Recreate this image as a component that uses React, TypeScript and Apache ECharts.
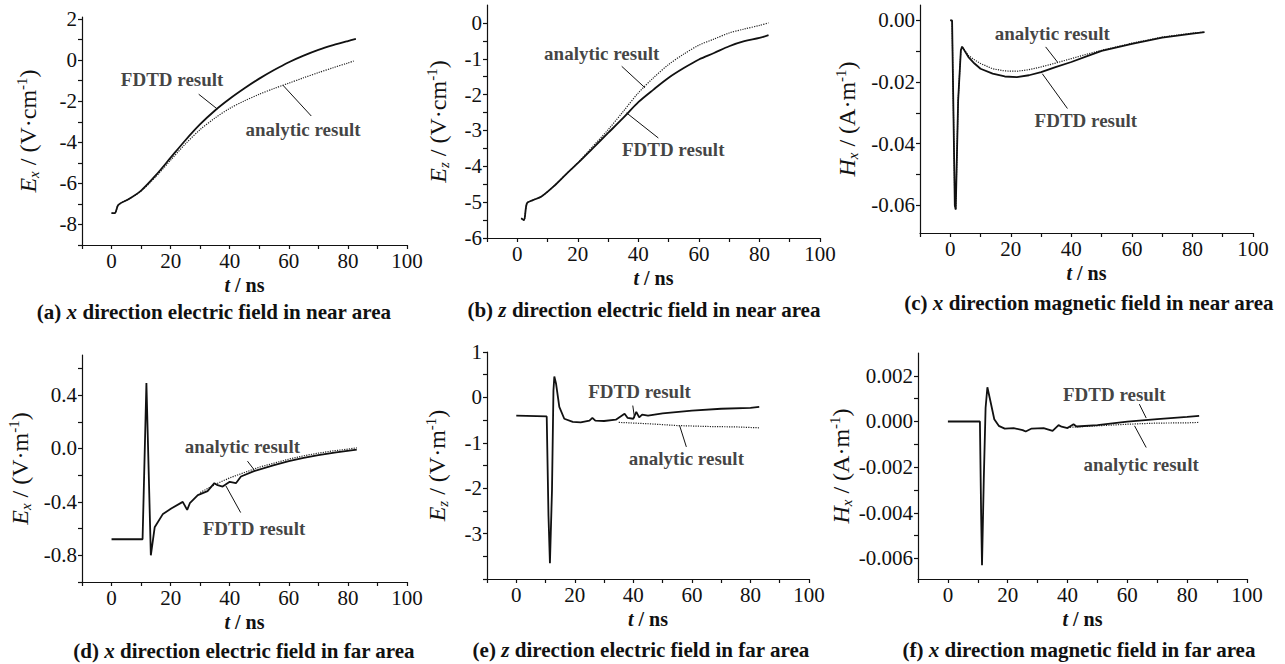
import React, { useEffect, useRef } from 'react';
import * as echarts from 'echarts';

const FONT = '"Liberation Serif", "Times New Roman", Times, serif';
const INK = '#111';

// ---------- shared x axis ----------
const xLabelValues = [0, 20, 40, 60, 80, 100];
const xTickValues = [-10, 0, 10, 20, 30, 40, 50, 60, 70, 80, 90, 100];

// ---------- (a) x direction electric field in near area ----------
const aYLabels = ['2', '0', '-2', '-4', '-6', '-8'];
const aYTicks = [-9, -8, -7, -6, -5, -4, -3, -2, -1, 0, 1, 2];
const aFdtdT = [0, 1.1, 2.3, 6, 10, 15, 20, 25, 30, 35, 40, 45, 50, 55, 60, 65, 70, 75, 80, 82.7];
const aFdtdV = [-7.45, -7.45, -7.05, -6.75, -6.35, -5.6, -4.75, -3.9, -3.12, -2.45, -1.88, -1.37, -0.9, -0.48, -0.1, 0.22, 0.5, 0.73, 0.93, 1.03];
const aAnaT = [0, 1.1, 2.3, 6, 10, 15, 20, 25, 30, 35, 40, 45, 50, 55, 60, 65, 70, 75, 80, 82];
const aAnaV = [-7.45, -7.45, -7.05, -6.75, -6.37, -5.67, -4.87, -4.08, -3.38, -2.82, -2.35, -1.98, -1.66, -1.38, -1.12, -0.86, -0.61, -0.37, -0.14, -0.04];
const aTextPos = [[20.5, -0.93], [64.8, -3.38]];
const aTexts = ['FDTD result', 'analytic result'];
const aLeaders = [[[29.5, -1.66], [35.8, -2.38]], [[67.6, -2.72], [58, -1.22]]];

// ---------- (b) z direction electric field in near area ----------
const bYLabels = ['0', '-1', '-2', '-3', '-4', '-5', '-6'];
const bYTicks = [-6, -5.5, -5, -4.5, -4, -3.5, -3, -2.5, -2, -1.5, -1, -0.5, 0];
const bFdtdT = [1.3, 2.2, 3.2, 5, 8, 12, 16, 20, 25, 30, 35, 40, 45, 50, 55, 60, 65, 70, 75, 80, 83];
const bFdtdV = [-5.45, -5.5, -5.03, -4.95, -4.84, -4.56, -4.23, -3.91, -3.49, -3.07, -2.65, -2.21, -1.86, -1.53, -1.26, -1.02, -0.84, -0.65, -0.51, -0.42, -0.34];
const bAnaT = [1.3, 2.2, 3.2, 5, 8, 12, 16, 20, 25, 30, 35, 40, 45, 50, 55, 60, 65, 70, 75, 80, 83];
const bAnaV = [-5.45, -5.5, -5.03, -4.95, -4.84, -4.56, -4.23, -3.9, -3.44, -2.98, -2.47, -1.95, -1.53, -1.16, -0.87, -0.62, -0.45, -0.28, -0.17, -0.07, 0];
const bTextPos = [[27.9, -0.84], [51.5, -3.53]];
const bTexts = ['analytic result', 'FDTD result'];
const bLeaders = [[[34.5, -1.21], [42.2, -1.81]], [[46.6, -3.21], [36.1, -2.51]]];

// ---------- (c) x direction magnetic field in near area ----------
const cYLabels = ['0.00', '-0.02', '-0.04', '-0.06'];
const cYTicks = [-0.06, -0.05, -0.04, -0.03, -0.02, -0.01, 0];
const cFdtdT = [0, 0.6, 1.5, 1.8, 2.6, 3.5, 3.9, 6, 8, 10, 14, 18, 22, 26, 30, 35, 40, 45, 50, 60, 70, 80, 84];
const cFdtdV = [0, 0, -0.06, -0.0614, -0.026, -0.0097, -0.0085, -0.0119, -0.014, -0.0157, -0.0173, -0.0182, -0.0184, -0.0178, -0.0168, -0.0151, -0.0135, -0.0117, -0.0099, -0.0076, -0.0056, -0.0043, -0.0038];
const cAnaT = [0, 0.6, 1.5, 1.8, 2.6, 3.5, 3.9, 6, 8, 10, 14, 18, 22, 26, 30, 35, 40, 45, 50, 60, 70, 80, 84];
const cAnaV = [0, 0, -0.06, -0.0614, -0.026, -0.0097, -0.0085, -0.0114, -0.0128, -0.014, -0.0157, -0.0164, -0.0165, -0.016, -0.0151, -0.0138, -0.0124, -0.011, -0.0097, -0.0074, -0.0054, -0.0041, -0.0038];
const cTextPos = [[33.7, -0.0043], [44.8, -0.0324]];
const cTexts = ['analytic result', 'FDTD result'];
const cLeaders = [[[31.5, -0.0086], [35.4, -0.0135]], [[38.7, -0.0286], [30.4, -0.0173]]];

// ---------- (d) x direction electric field in far area ----------
const dYLabels = ['0.4', '0.0', '-0.4', '-0.8'];
const dYTicks = [-1.0, -0.8, -0.6, -0.4, -0.2, 0, 0.2, 0.4, 0.6];
const dFdtdT = [0, 10.5, 11.8, 13.3, 14.6, 17.4, 20.2, 24.1, 25.6, 26.5, 29.2, 32.5, 34.8, 35.9, 37.6, 40, 42.1, 43.8, 48.2, 55, 60, 65, 70, 76, 83];
const dFdtdV = [-0.68, -0.68, 0.49, -0.8, -0.59, -0.49, -0.45, -0.4, -0.46, -0.41, -0.35, -0.32, -0.26, -0.275, -0.285, -0.25, -0.26, -0.21, -0.17, -0.125, -0.095, -0.07, -0.05, -0.03, -0.008];
const dAnaT = [30, 35, 40, 45, 50, 55, 60, 65, 70, 75, 80, 83];
const dAnaV = [-0.33, -0.27, -0.22, -0.18, -0.14, -0.11, -0.08, -0.055, -0.035, -0.018, -0.005, 0.005];
const dTextPos = [[44.3, 0.018], [48.2, -0.6]];
const dTexts = ['analytic result', 'FDTD result'];
const dLeaders = [[[46, -0.095], [48.2, -0.158]], [[43.7, -0.48], [38.7, -0.28]]];

// ---------- (e) z direction electric field in far area ----------
const eYLabels = ['1', '0', '-1', '-2', '-3'];
const eYTicks = [-4, -3.5, -3, -2.5, -2, -1.5, -1, -0.5, 0, 0.5, 1];
const eFdtdT = [0, 10.4, 11.0, 11.5, 12.2, 12.7, 13.0, 13.6, 14.7, 16.4, 19.3, 22, 25, 26, 27, 30, 34, 37, 38, 40, 41, 42, 43, 45, 50, 60, 70, 80, 83];
const eFdtdV = [-0.4, -0.42, -2.6, -3.65, -2.05, 0.15, 0.46, 0.3, -0.21, -0.47, -0.54, -0.55, -0.51, -0.45, -0.51, -0.52, -0.49, -0.36, -0.45, -0.47, -0.32, -0.44, -0.38, -0.4, -0.35, -0.29, -0.25, -0.23, -0.21];
const eAnaT = [35, 45, 55, 65, 75, 83];
const eAnaV = [-0.55, -0.58, -0.62, -0.64, -0.65, -0.67];
const eTextPos = [[42.1, 0.12], [58.1, -1.35]];
const eTexts = ['FDTD result', 'analytic result'];
const eLeaders = [[[39.8, -0.18], [40.4, -0.45]], [[58.1, -1.09], [55.8, -0.62]]];

// ---------- (f) x direction magnetic field in far area ----------
const fYLabels = ['0.002', '0.000', '-0.002', '-0.004', '-0.006'];
const fYTicks = [-0.006, -0.005, -0.004, -0.003, -0.002, -0.001, 0, 0.001, 0.002];
const fFdtdT = [0, 10.7, 11.1, 11.4, 12.0, 12.6, 13.2, 14.2, 15.5, 17, 19, 22, 25, 26, 28, 32, 35, 37, 38, 40, 42, 43, 50, 60, 70, 80, 84];
const fFdtdV = [0, 0, -0.004, -0.0063, -0.0025, 0.0006, 0.0015, 0.0009, 0.0001, -0.00019, -0.00031, -0.00029, -0.00038, -0.00044, -0.00031, -0.00029, -0.00041, -0.00016, -0.00023, -0.00029, -0.00012, -0.00022, -0.00016, -0.00001, 0.0001, 0.0002, 0.00025];
const fAnaT = [40, 50, 60, 70, 80, 84];
const fAnaV = [-0.00026, -0.00019, -0.00012, -0.00007, -0.00006, -0.00004];
const fTextPos = [[55.6, 0.0012], [64.6, -0.00187]];
const fTexts = ['FDTD result', 'analytic result'];
const fLeaders = [[[64, 0.00076], [66.3, 0.00015]], [[66.3, -0.00114], [62.4, -0.00019]]];

const captions = [
  '(a) {i|x} direction electric field in near area',
  '(b) {i|z} direction electric field in near area',
  '(c) {i|x} direction magnetic field in near area',
  '(d) {i|x} direction electric field in far area',
  '(e) {i|z} direction electric field in far area',
  '(f) {i|x} direction magnetic field in far area',
];
const yNames = [
  '{e|E}{sub|x}{n| / (V·cm}{sup|-1}{n|)}',
  '{e|E}{sub|z}{n| / (V·cm}{sup|-1}{n|)}',
  '{e|H}{sub|x}{n| / (A·m}{sup|-1}{n|)}',
  '{e|E}{sub|x}{n| / (V·m}{sup|-1}{n|)}',
  '{e|E}{sub|z}{n| / (V·m}{sup|-1}{n|)}',
  '{e|H}{sub|x}{n| / (A·m}{sup|-1}{n|)}',
];

const panels = [
  { yMin: -9, yMax: 2.1, yLabels: aYLabels, yTicks: aYTicks, fT: aFdtdT, fV: aFdtdV, aT: aAnaT, aV: aAnaV, tp: aTextPos, tx: aTexts, ld: aLeaders, smooth: true },
  { yMin: -6, yMax: 0.5, yLabels: bYLabels, yTicks: bYTicks, fT: bFdtdT, fV: bFdtdV, aT: bAnaT, aV: bAnaV, tp: bTextPos, tx: bTexts, ld: bLeaders, smooth: true },
  { yMin: -0.069, yMax: 0.005, yLabels: cYLabels, yTicks: cYTicks, fT: cFdtdT, fV: cFdtdV, aT: cAnaT, aV: cAnaV, tp: cTextPos, tx: cTexts, ld: cLeaders, smooth: false },
  { yMin: -1.0, yMax: 0.7, yLabels: dYLabels, yTicks: dYTicks, fT: dFdtdT, fV: dFdtdV, aT: dAnaT, aV: dAnaV, tp: dTextPos, tx: dTexts, ld: dLeaders, smooth: false },
  { yMin: -4, yMax: 1, yLabels: eYLabels, yTicks: eYTicks, fT: eFdtdT, fV: eFdtdV, aT: eAnaT, aV: eAnaV, tp: eTextPos, tx: eTexts, ld: eLeaders, smooth: false },
  { yMin: -0.0069, yMax: 0.003, yLabels: fYLabels, yTicks: fYTicks, fT: fFdtdT, fV: fFdtdV, aT: fAnaT, aV: fAnaV, tp: fTextPos, tx: fTexts, ld: fLeaders, smooth: false },
];

// layout (pixels)
const layouts = [
  { left: 82, top: 17, width: 325, height: 228, yGap: 41, cap: [214, 312] },
  { left: 487, top: 5, width: 333, height: 233, yGap: 36, cap: [644, 310] },
  { left: 920, top: 5, width: 333, height: 228, yGap: 60, cap: [1089, 303] },
  { left: 82, top: 355, width: 325, height: 227, yGap: 49, cap: [244, 651] },
  { left: 487, top: 352, width: 322, height: 227, yGap: 37, cap: [641, 650] },
  { left: 918, top: 353, width: 329, height: 226, yGap: 61, cap: [1079, 650] },
];

const TICK_FS = 21;
const NOTE_FS = 19;
const XNAME_FS = 20;
const YNAME_FS = 24;
const CAP_FS = 21;

const zip = (t: number[], v: number[]) => t.map((x, i) => [x, v[i]]);

function buildOption() {
  const grid: any[] = [];
  const xAxis: any[] = [];
  const yAxis: any[] = [];
  const series: any[] = [];
  const graphic: any[] = [];
  const axisLineStyle = { color: INK, width: 1.2 };

  panels.forEach((p, i) => {
    const L = layouts[i];
    grid.push({ left: L.left, top: L.top, width: L.width, height: L.height, containLabel: false });
    xAxis.push({
      gridIndex: i, type: 'value', min: -10, max: 100,
      axisLine: { onZero: false, lineStyle: axisLineStyle },
      axisTick: { customValues: xTickValues, length: 4, lineStyle: axisLineStyle },
      axisLabel: { customValues: xLabelValues, fontSize: TICK_FS, color: INK, fontFamily: FONT, margin: 5 },
      splitLine: { show: false },
      name: '{i|t}{n| / ns}', nameLocation: 'middle', nameGap: 30,
      nameTextStyle: {
        fontFamily: FONT, fontSize: XNAME_FS, color: INK,
        rich: {
          i: { fontStyle: 'italic', fontWeight: 'bold', fontSize: XNAME_FS, fontFamily: FONT, color: INK },
          n: { fontWeight: 'bold', fontSize: XNAME_FS, fontFamily: FONT, color: INK },
        },
      },
    });
    const labs = p.yLabels;
    yAxis.push({
      gridIndex: i, type: 'value', min: p.yMin, max: p.yMax,
      axisLine: { show: true, onZero: false, lineStyle: axisLineStyle },
      axisTick: { show: true, customValues: p.yTicks, length: 4, lineStyle: axisLineStyle },
      axisLabel: {
        customValues: labs.map(Number), fontSize: TICK_FS, color: INK, fontFamily: FONT, margin: 5,
        formatter: (v: number) => {
          const m = labs.find((s) => Math.abs(Number(s) - v) < 1e-9);
          return m === undefined ? '' : m;
        },
      },
      splitLine: { show: false },
      name: yNames[i], nameLocation: 'middle', nameRotate: 90, nameGap: L.yGap,
      nameTextStyle: {
        fontFamily: FONT, fontSize: YNAME_FS, color: INK, lineHeight: 27,
        rich: {
          e: { fontStyle: 'italic', fontSize: YNAME_FS, fontFamily: FONT, color: INK, lineHeight: 27 },
          sub: { fontStyle: 'italic', fontSize: 15, fontFamily: FONT, color: INK, verticalAlign: 'bottom', lineHeight: 27 },
          sup: { fontSize: 15, fontFamily: FONT, color: INK, verticalAlign: 'top', lineHeight: 27 },
          n: { fontSize: YNAME_FS, fontFamily: FONT, color: INK, lineHeight: 27 },
        },
      },
    });
    series.push({
      type: 'line', xAxisIndex: i, yAxisIndex: i, data: zip(p.aT, p.aV),
      symbol: 'none', showSymbol: false, smooth: p.smooth ? 0.3 : false,
      lineStyle: { color: '#222', width: 1.2, type: 'dotted' }, silent: true,
    });
    series.push({
      type: 'line', xAxisIndex: i, yAxisIndex: i, data: zip(p.fT, p.fV),
      symbol: 'none', showSymbol: false, smooth: p.smooth ? 0.3 : false,
      lineStyle: { color: INK, width: 1.8 }, silent: true,
    });
    series.push({
      type: 'scatter', xAxisIndex: i, yAxisIndex: i, symbolSize: 1, silent: true,
      itemStyle: { color: 'rgba(0,0,0,0)' },
      data: p.tp.map((c, k) => ({ name: p.tx[k], value: c })),
      label: {
        show: true, position: 'inside', formatter: (d: any) => d.name,
        fontSize: NOTE_FS, fontWeight: 'bold', fontFamily: FONT, color: INK,
      },
      markLine: {
        silent: true, symbol: ['none', 'arrow'], symbolSize: [0, 6],
        label: { show: false },
        lineStyle: { color: INK, width: 1, type: 'solid' },
        data: p.ld.map(([a, b]) => [{ coord: a }, { coord: b }]),
      },
    });
    graphic.push({
      type: 'text', x: L.cap[0], y: L.cap[1],
      style: {
        text: captions[i], fontFamily: FONT, fontSize: CAP_FS, fontWeight: 'bold', fill: INK,
        align: 'center', verticalAlign: 'middle', textAlign: 'center', textVerticalAlign: 'middle',
        rich: {
          i: { fontStyle: 'italic', fontWeight: 'bold', fontSize: CAP_FS, fontFamily: FONT, fill: INK },
        },
      },
    });
  });

  return { animation: false, backgroundColor: '#fff', grid, xAxis, yAxis, series, graphic };
}

export default function App() {
  const ref = useRef<HTMLDivElement>(null);
  useEffect(() => {
    if (!ref.current) return;
    const chart = echarts.init(ref.current, null, { renderer: 'svg' });
    chart.setOption(buildOption() as any);
    return () => chart.dispose();
  }, []);
  return (
    <div
      ref={ref}
      style={{ position: 'fixed', left: 0, top: 0, width: 1285, height: 664, background: '#fff' }}
    />
  );
}
